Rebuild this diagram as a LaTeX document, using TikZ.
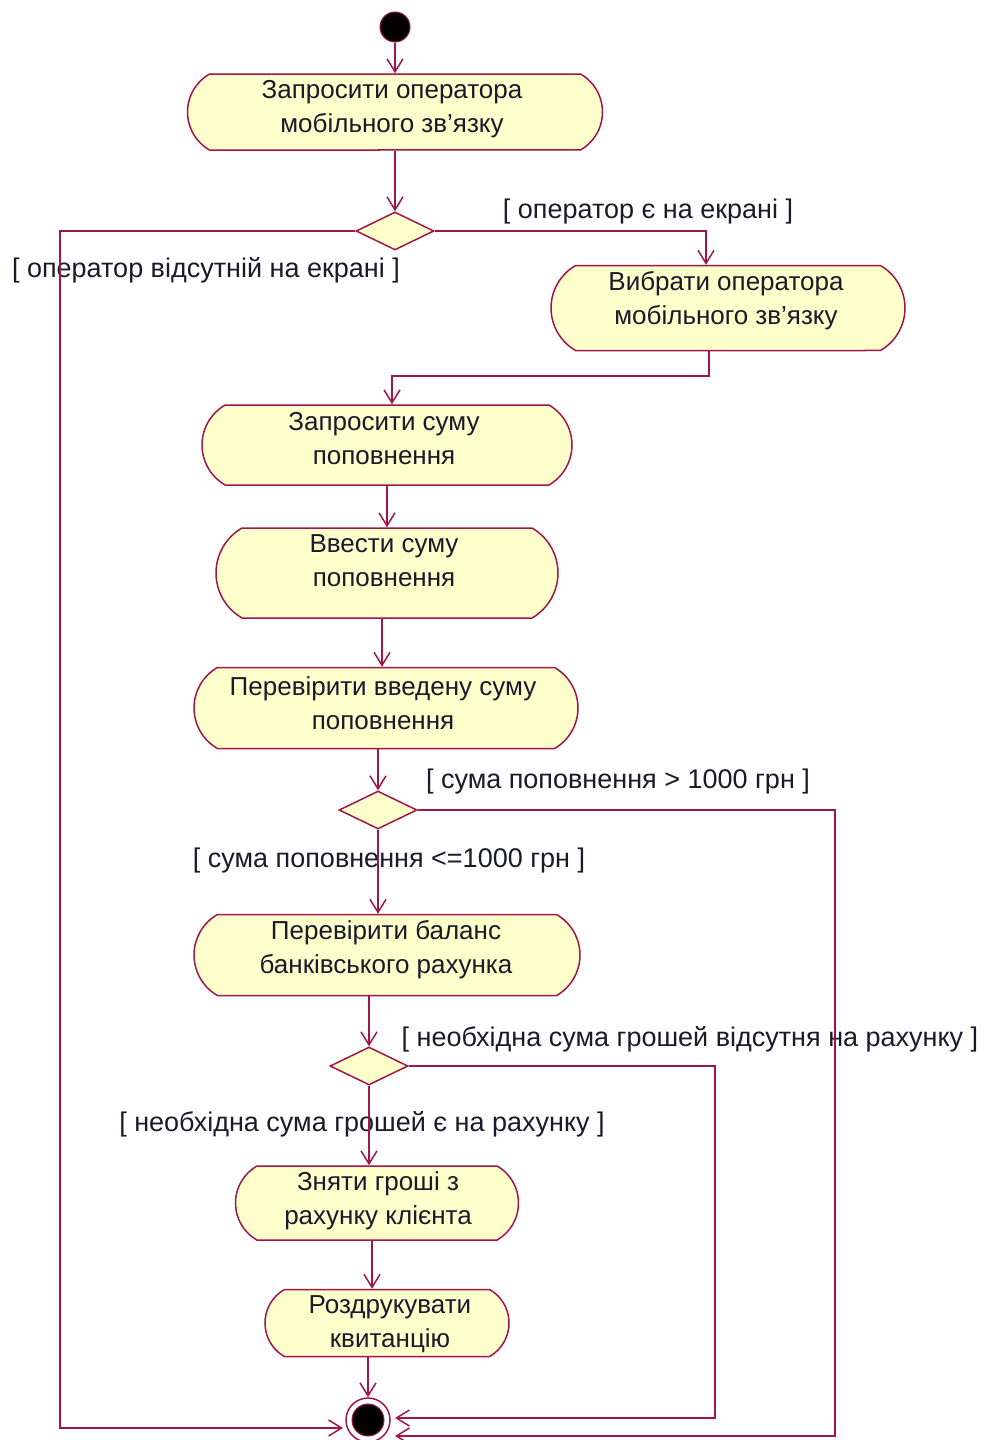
\documentclass[tikz,border=0pt]{standalone}
\usepackage{fontspec}
\setmainfont{Liberation Sans}
\usetikzlibrary{shapes.misc,shapes.geometric,arrows.meta,calc}
\definecolor{flow}{HTML}{A0164A}
\definecolor{actfill}{HTML}{FFFFCC}
\definecolor{ink}{HTML}{1A1A2A}
\begin{document}
\begin{tikzpicture}[x=1pt,y=-1pt,
  act/.style={rounded rectangle, rounded rectangle arc length=120, draw=flow,
    fill=actfill, line width=1.5pt, inner sep=0pt},
  txt/.style={align=center, text=ink, font=\fontsize{26}{34}\selectfont, inner sep=0pt},
  guard/.style={text=ink, font=\fontsize{27}{30}\selectfont, inner sep=0pt},
  choice/.style={diamond, draw=flow, fill=actfill, line width=1.5pt, inner sep=0pt,
    minimum width=78pt, minimum height=38pt},
  flowline/.style={draw=flow, line width=1.5pt, -{Straight Barb[length=13pt,width=16pt]}},
]
\useasboundingbox (0,0) rectangle (991,1440);

% start and final nodes
\node[circle, fill=black, draw=flow, line width=1pt, minimum size=30pt, inner sep=0pt] (start) at (395,27) {};
\node[circle, draw=flow, fill=white, line width=1.5pt, minimum size=44pt, inner sep=0pt,
  path picture={\fill[black, draw=flow, line width=1pt] (path picture bounding box.center) circle (16pt);}]
  (fin) at (368,1420) {};

% activities
\node[act, minimum width=415pt, minimum height=76pt] (a1) at (395,112) {};
\node[act, minimum width=354pt, minimum height=85pt] (a2) at (728,308) {};
\node[act, minimum width=370pt, minimum height=80pt] (a3) at (387,445) {};
\node[act, minimum width=342pt, minimum height=90pt] (a4) at (387,573) {};
\node[act, minimum width=384pt, minimum height=81pt] (a5) at (386,708) {};
\node[act, minimum width=386pt, minimum height=81pt] (a6) at (387,955) {};
\node[act, minimum width=283pt, minimum height=74pt] (a7) at (377,1203) {};
\node[act, minimum width=244pt, minimum height=67pt] (a8) at (387,1323) {};

\node[txt] (a1t) at (392,109) {Запросити оператора\\мобільного зв'язку};
\node[txt] (a2t) at (726,301) {Вибрати оператора\\мобільного зв'язку};
\node[txt] (a3t) at (384,439) {Запросити суму\\поповнення};
\node[txt] (a4t) at (384,561) {Ввести суму\\поповнення};
\node[txt] (a5t) at (383,703) {Перевірити введену суму\\поповнення};
\node[txt] (a6t) at (386,950) {Перевірити баланс\\банківського рахунка};
\node[txt] (a7t) at (378,1201) {Зняти гроші з\\рахунку клієнта};
\node[txt] (a8t) at (390,1324) {Роздрукувати\\квитанцію};

% decisions
\node[choice] (d1) at (395,231) {};
\node[choice] (d2) at (378,810) {};
\node[choice] (d3) at (369,1066) {};

% guards
\node[guard] (g1) at (648,212) {[ оператор є на екрані ]};
\node[guard] (g2) at (206,270) {[ оператор відсутній на екрані ]};
\node[guard] (g3) at (618,782) {[ сума поповнення > 1000 грн ]};
\node[guard] (g4) at (389,861) {[ сума поповнення <=1000 грн ]};
\node[guard] (g5) at (690,1039) {[ необхідна сума грошей відсутня на рахунку ]};
\node[guard] (g6) at (362,1124) {[ необхідна сума грошей є на рахунку ]};

% routing points
\coordinate (k706) at (706,231);
\coordinate (k709) at (709,376);
\coordinate (k392) at (392,376);
\coordinate (k60) at (60,1428);
\coordinate (k835) at (835,1436);
\coordinate (k715) at (715,1418);
\coordinate (c382) at (382,0);
\coordinate (c372) at (372,0);

% transitions
\draw[flowline] (start) -- (a1);
\draw[flowline] (a1) -- (d1);
\draw[flowline] (d1.east) -| (a2.north -| k706);
\draw[flowline] (a2.south -| k709) -- (k709) -- (k392) -- (a3.north -| k392);
\draw[flowline] (d1.west) -| (k60) -- ($(fin.center)+(-25,8)$);
\draw[flowline] (a3) -- (a4);
\draw[flowline] (a4.south -| c382) -- (a5.north -| c382);
\draw[flowline] (a5.south -| d2.north) -- (d2.north);
\draw[flowline] (d2.south) -- (a6.north -| d2.south);
\draw[flowline] (d2.east) -| (k835) -- ($(fin.center)+(27,16)$);
\draw[flowline] (a6.south -| d3.north) -- (d3.north);
\draw[flowline] (d3.south) -- (a7.north -| d3.south);
\draw[flowline] (d3.east) -| (k715) -- ($(fin.center)+(27,-2)$);
\draw[flowline] (a7.south -| c372) -- (a8.north -| c372);
\draw[flowline] (a8.south -| fin.north) -- (fin.north);
\end{tikzpicture}
\end{document}
